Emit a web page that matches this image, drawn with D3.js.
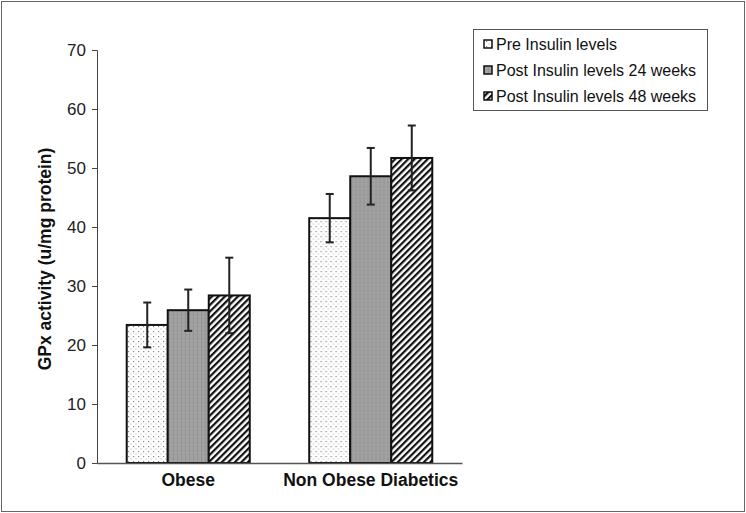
<!DOCTYPE html>
<html><head><meta charset="utf-8">
<script src="https://cdn.jsdelivr.net/npm/d3@7"></script>
<style>body{margin:0;background:#fff}svg{display:block;font-family:"Liberation Sans",Arial,sans-serif}</style>
</head><body><svg id="c" width="746" height="513"></svg>
<script>
const categories = ["Obese", "Non Obese Diabetics"];
const seriesNames = ["Pre Insulin levels", "Post Insulin levels 24 weeks", "Post Insulin levels 48 weeks"];
const preValues = [23.4, 41.5];
const post24Values = [25.9, 48.6];
const post48Values = [28.4, 51.7];
const preErr = [3.8, 4.1];
const post24Err = [3.5, 4.8];
const post48Err = [6.4, 5.5];
const yTicks = [0, 10, 20, 30, 40, 50, 60, 70];

const svg = d3.select("#c");
const defs = svg.append("defs");
const p1 = defs.append("pattern").attr("id","dots").attr("width",5).attr("height",5).attr("patternUnits","userSpaceOnUse");
p1.append("rect").attr("width",5).attr("height",5).attr("fill","#fff");
p1.append("rect").attr("x",1).attr("y",1).attr("width",1.2).attr("height",1.2).attr("fill","#888");
p1.append("rect").attr("x",3.5).attr("y",3.5).attr("width",1).attr("height",1).attr("fill","#aaa");
const p2 = defs.append("pattern").attr("id","gray").attr("width",4).attr("height",4).attr("patternUnits","userSpaceOnUse");
p2.append("rect").attr("width",4).attr("height",4).attr("fill","#a3a3a3");
p2.append("rect").attr("x",0).attr("width",1).attr("height",4).attr("fill","#939393");
p2.append("rect").attr("y",2).attr("width",4).attr("height",1).attr("fill","#9a9a9a");
const p3 = defs.append("pattern").attr("id","diag").attr("width",4.6).attr("height",4.6).attr("patternUnits","userSpaceOnUse").attr("patternTransform","rotate(45)");
p3.append("rect").attr("width",4.6).attr("height",4.6).attr("fill","#fff");
p3.append("rect").attr("width",2.2).attr("height",4.6).attr("fill","#111");
const fills = ["url(#dots)","url(#gray)","url(#diag)"];

svg.append("rect").attr("x",1.5).attr("y",1.5).attr("width",743).attr("height",510).attr("fill","none").attr("stroke","#666").attr("stroke-width",1);

const x0 = d3.scaleBand().domain(categories).range([97, 462]).paddingInner(0).paddingOuter(0);
const x1 = d3.scaleBand().domain(seriesNames).range([0, x0.bandwidth()]).paddingOuter(0.725).paddingInner(0);
const y = d3.scaleLinear().domain([0,70]).range([463, 50]);

const data = categories.map((c,i)=>({cat:c, vals:[
  {s:seriesNames[0], v:preValues[i], e:preErr[i], f:fills[0]},
  {s:seriesNames[1], v:post24Values[i], e:post24Err[i], f:fills[1]},
  {s:seriesNames[2], v:post48Values[i], e:post48Err[i], f:fills[2]}]}));

const g = svg.selectAll("g.grp").data(data).enter().append("g").attr("transform",d=>`translate(${x0(d.cat)},0)`);
g.selectAll("rect").data(d=>d.vals).enter().append("rect")
  .attr("x",d=>x1(d.s)).attr("y",d=>y(d.v)).attr("width",x1.bandwidth()).attr("height",d=>y(0)-y(d.v))
  .attr("fill",d=>d.f).attr("stroke","#111").attr("stroke-width",2);
const eb = g.selectAll("g.eb").data(d=>d.vals).enter().append("g").attr("stroke","#222").attr("stroke-width",2);
eb.append("line").attr("x1",d=>x1(d.s)+x1.bandwidth()/2).attr("x2",d=>x1(d.s)+x1.bandwidth()/2)
  .attr("y1",d=>y(d.v-d.e)).attr("y2",d=>y(d.v+d.e));
[-1,1].forEach(sg=>{
  eb.append("line").attr("x1",d=>x1(d.s)+x1.bandwidth()/2-4).attr("x2",d=>x1(d.s)+x1.bandwidth()/2+4)
    .attr("y1",d=>y(d.v+sg*d.e)).attr("y2",d=>y(d.v+sg*d.e));
});

const ya = svg.append("g").attr("transform","translate(97,0)")
  .call(d3.axisLeft(y).tickValues(yTicks).tickSize(5).tickPadding(6));
ya.select(".domain").attr("stroke","#444");
ya.selectAll(".tick line").attr("stroke","#444");
ya.selectAll("text").attr("font-size",17).attr("fill","#222").attr("font-family","Liberation Sans, Arial, sans-serif");
const xa = svg.append("g").attr("transform","translate(0,463)")
  .call(d3.axisBottom(x0).tickSize(0).tickPadding(7));
xa.select(".domain").attr("stroke","#555").attr("stroke-width",1.5);
xa.selectAll("text").attr("font-size",17.5).attr("font-weight","bold").attr("fill","#111").attr("font-family","Liberation Sans, Arial, sans-serif").attr("dy","0.9em");

svg.append("text").attr("transform","translate(51,259) rotate(-90)").attr("text-anchor","middle")
  .attr("font-size",17.5).attr("font-weight","bold").attr("fill","#111").text("GPx activity (u/mg protein)");

const lg = svg.append("g");
lg.append("rect").attr("x",473.5).attr("y",29.5).attr("width",234).attr("height",81).attr("fill","#fff").attr("stroke","#555");
seriesNames.forEach((s,i)=>{
  const yy = 44 + i*26;
  lg.append("rect").attr("x",484).attr("y",yy-4).attr("width",8).attr("height",8).attr("fill",fills[i]).attr("stroke","#111").attr("stroke-width",1.5);
  lg.append("text").attr("x",496).attr("y",yy+6).attr("font-size",16).attr("fill","#111").text(s);
});
</script></body></html>
